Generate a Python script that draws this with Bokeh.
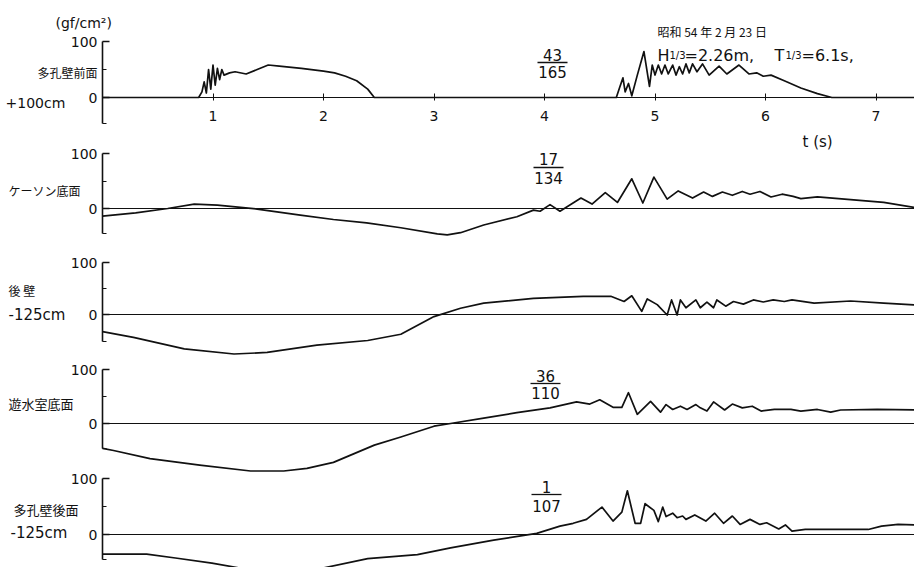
from bokeh.plotting import figure
from bokeh.models import Range1d, LinearAxis, FixedTicker, Label
from bokeh.embed import file_html
from bokeh.resources import INLINE

# ---------------- data (gf/cm2 vs t in s) ----------------
t_front = [0.0, 0.87, 0.90, 0.92, 0.94, 0.96, 0.98, 1.00, 1.02, 1.04, 1.06, 1.08, 1.10, 1.15, 1.20,
           1.30, 1.40, 1.50, 1.60, 1.80, 2.00, 2.10, 2.20, 2.30, 2.40, 2.46, 4.65, 4.68, 4.71, 4.73,
           4.76, 4.79, 4.84, 4.90, 4.95, 4.975, 5.00, 5.03, 5.06, 5.09, 5.12, 5.16, 5.19, 5.22, 5.25,
           5.28, 5.31, 5.34, 5.38, 5.43, 5.49, 5.58, 5.65, 5.76, 5.85, 5.92, 5.98, 6.05, 6.17, 6.32,
           6.47, 6.60, 7.40]
p_front = [0, 0, 10, 28, 8, 50, 15, 58, 22, 52, 32, 50, 40, 44, 46,
           42, 50, 58, 56, 52, 47, 44, 38, 30, 15, 0, 0, 18, 35, 10,
           25, 3, 40, 82, 20, 58, 40, 58, 42, 58, 42, 58, 40, 55, 42,
           60, 44, 60, 46, 60, 40, 56, 42, 58, 42, 44, 38, 40, 30, 17,
           7, 0, 0]

t_caisson = [0.0, 0.30, 0.59, 0.83, 1.04, 1.40, 1.79, 2.09, 2.39, 2.70, 3.03, 3.12, 3.24, 3.45, 3.75,
             3.90, 3.96, 4.05, 4.14, 4.33, 4.43, 4.55, 4.66, 4.79, 4.89, 4.99, 5.11, 5.21, 5.34, 5.44,
             5.52, 5.61, 5.70, 5.79, 5.86, 5.95, 6.05, 6.15, 6.25, 6.32, 6.47, 6.77, 7.07, 7.40]
p_caisson = [-14, -8, 0, 8, 6, -1, -12, -20, -26, -35, -46, -48, -44, -30, -15,
             -3, -5, 7, -5, 19, 8, 29, 11, 54, 10, 57, 17, 32, 19, 30,
             22, 30, 24, 31, 26, 31, 21, 26, 22, 18, 21, 16, 11, 0]

t_rear = [0.0, 0.28, 0.74, 1.19, 1.49, 1.94, 2.40, 2.70, 3.00, 3.24, 3.45, 3.90, 4.35, 4.60, 4.72,
          4.79, 4.88, 4.93, 5.02, 5.11, 5.15, 5.20, 5.23, 5.28, 5.37, 5.41, 5.47, 5.53, 5.56, 5.64,
          5.71, 5.80, 5.89, 5.98, 6.07, 6.17, 6.24, 6.44, 6.77, 7.07, 7.40]
p_rear = [-33, -44, -66, -76, -73, -59, -50, -38, -4, 12, 22, 31, 35, 35, 25,
          36, 6, 30, 19, -1, 28, -1, 28, 13, 28, 13, 24, 13, 28, 16,
          25, 20, 28, 24, 28, 25, 28, 22, 26, 22, 18]

t_chamber = [0.0, 0.10, 0.43, 0.88, 1.34, 1.64, 1.85, 2.09, 2.24, 2.46, 2.70, 3.00, 3.15, 3.45, 3.75,
             4.05, 4.29, 4.41, 4.50, 4.62, 4.70, 4.76, 4.84, 4.96, 5.05, 5.10, 5.16, 5.23, 5.29, 5.37,
             5.41, 5.47, 5.53, 5.63, 5.70, 5.79, 5.88, 5.96, 6.08, 6.23, 6.32, 6.47, 6.59, 6.68, 7.01, 7.40]
p_chamber = [-46, -50, -65, -77, -88, -88, -83, -72, -59, -40, -25, -5, 0, 10, 20,
             29, 40, 36, 44, 30, 30, 57, 17, 41, 21, 35, 26, 32, 26, 35,
             29, 23, 40, 25, 36, 29, 32, 23, 26, 26, 23, 26, 21, 25, 26, 25]

t_back = [0.0, 0.40, 0.66, 0.99, 1.30, 1.60, 1.97, 2.40, 2.85, 3.15, 3.54, 3.93, 4.14, 4.26, 4.38,
          4.52, 4.62, 4.70, 4.75, 4.82, 4.87, 4.91, 4.99, 5.03, 5.07, 5.10, 5.16, 5.20, 5.25, 5.28,
          5.36, 5.46, 5.54, 5.62, 5.70, 5.77, 5.86, 5.95, 6.01, 6.12, 6.18, 6.24, 6.36, 6.54, 6.93,
          7.05, 7.20, 7.40]
p_back = [-35, -35, -42, -51, -62, -66, -61, -43, -36, -24, -10, 2, 15, 20, 27,
          49, 24, 40, 78, 20, 20, 55, 43, 23, 49, 32, 38, 30, 33, 27,
          35, 24, 38, 20, 33, 18, 27, 18, 21, 10, 17, 6, 9, 9, 9,
          15, 18, 17]

series_t = [t_front, t_caisson, t_rear, t_chamber, t_back]
series_p = [p_front, p_caisson, p_rear, p_chamber, p_back]
panel_names = ["多孔壁前面", "ケーソン底面", "後 壁", "遊水室底面", "多孔壁後面"]
depth_labels = ["+100cm", "", "-125cm", "", "-125cm"]
ratio_num = ["43", "17", "", "36", "1"]
ratio_den = ["165", "134", "", "110", "107"]
x_ticks = [1, 2, 3, 4, 5, 6, 7]
y_ticks = [0, 100]
y_minor = [50]
unit_label = "(gf/cm²)"
t_label = "t (s)"
date_label = "昭和 54 年 2 月 23 日"

# ---------------- layout (page pixels) ----------------
W, H = 914, 567
X0, PXS = 102.0, 110.5
ZERO = [97, 208, 314, 423, 534]
SCALE = [0.56, 0.55, 0.52, 0.54, 0.56]
AX_LO = [-47, -46, -51, -46, -45]
LAT = "DejaVu Sans"
JP = "Noto Sans CJK JP"
INK = "#111111"

p = figure(width=W, height=H, output_backend="svg", toolbar_location=None,
           x_range=Range1d(-X0 / PXS, (W - X0) / PXS), y_range=Range1d(0, 1),
           x_axis_location=None, y_axis_location=None, min_border=0)
p.outline_line_color = None
p.background_fill_color = "white"
p.border_fill_color = "white"
p.grid.visible = False
p.extra_y_ranges = {f"p{i}": Range1d(-(H - ZERO[i]) / SCALE[i], ZERO[i] / SCALE[i]) for i in range(5)}


def tx(sx):
    return (sx - X0) / PXS


def vy(i, sy):
    return (ZERO[i] - sy) / SCALE[i]


def lab(i, text, sx, sy, size, font=LAT, align="left", baseline="middle"):
    p.add_layout(Label(x=tx(sx), y=vy(i, sy), y_range_name=f"p{i}", text=text,
                       text_font=font, text_font_size=f"{size}px", text_align=align,
                       text_baseline=baseline, text_color=INK))


for i in range(5):
    name = f"p{i}"
    ax = LinearAxis(y_range_name=name, fixed_location=0, bounds=(AX_LO[i], 100),
                    ticker=FixedTicker(ticks=y_ticks, minor_ticks=y_minor + [AX_LO[i]]),
                    axis_line_width=1.6, axis_line_color=INK,
                    major_tick_in=7, major_tick_out=0, major_tick_line_width=1.4,
                    major_tick_line_color=INK,
                    minor_tick_in=4, minor_tick_out=0, minor_tick_line_color=INK,
                    major_label_standoff=5, major_label_text_font=LAT,
                    major_label_text_font_size="14px", major_label_text_color=INK)
    p.add_layout(ax, "left")
    p.ray(x=[0], y=[0], length=0, angle=0, y_range_name=name, line_color=INK, line_width=1.1)
    p.line(series_t[i], series_p[i], y_range_name=name, line_color=INK, line_width=1.7,
           line_join="round")

xa = LinearAxis(y_range_name="p0", fixed_location=0, ticker=FixedTicker(ticks=x_ticks),
                axis_line_color=None, major_tick_in=4, major_tick_out=3,
                major_tick_line_color=INK, minor_tick_line_color=None,
                major_label_standoff=10, major_label_text_font=LAT,
                major_label_text_font_size="14px", major_label_text_color=INK)
p.add_layout(xa, "below")

# panel captions
lab(0, unit_label, 55, 22, 14)
lab(0, panel_names[0], 37, 72, 12, JP)
lab(0, depth_labels[0], 5, 102, 14)
lab(1, panel_names[1], 8, 190, 12, JP)
lab(2, panel_names[2], 8, 290, 12, JP)
lab(2, depth_labels[2], 8, 314, 15)
lab(3, panel_names[3], 8, 403, 13, JP)
lab(4, panel_names[4], 13, 509, 13, JP)
lab(4, depth_labels[4], 10, 532, 15)

# ratio labels
FR_X = [552, 548, 0, 545, 546]
FR_NUM_Y = [54, 158, 0, 375, 486]
FR_BAR_Y = [62, 167, 0, 383, 494]
FR_DEN_Y = [71, 177, 0, 392, 505]
for i in range(5):
    if not ratio_num[i]:
        continue
    lab(i, ratio_num[i], FR_X[i], FR_NUM_Y[i], 15, align="center")
    lab(i, ratio_den[i], FR_X[i], FR_DEN_Y[i], 15, align="center")
    p.segment(x0=[tx(FR_X[i] - 15)], x1=[tx(FR_X[i] + 15)],
              y0=[vy(i, FR_BAR_Y[i])], y1=[vy(i, FR_BAR_Y[i])],
              y_range_name=f"p{i}", line_color=INK, line_width=1.3)

# time axis label and record info
lab(0, t_label, 802, 141, 15)
lab(0, date_label, 657, 31, 12, JP)
lab(0, "H", 657, 55, 16, baseline="alphabetic")
lab(0, "1/3", 669, 55, 10, baseline="alphabetic")
lab(0, "=2.26m,", 684, 55, 16, baseline="alphabetic")
lab(0, "T", 774, 55, 16, baseline="alphabetic")
lab(0, "1/3", 785, 55, 10, baseline="alphabetic")
lab(0, "=6.1s,", 801, 55, 16, baseline="alphabetic")

open("out.html", "w").write(file_html(p, INLINE))
